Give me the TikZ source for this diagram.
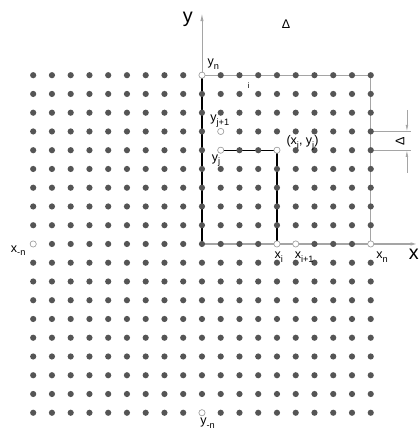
\documentclass[tikz,border=0pt]{standalone}
\usepackage{fontspec}
\setmainfont{Liberation Sans}
\usetikzlibrary{arrows.meta}
\definecolor{dotgray}{RGB}{85,85,85}
\definecolor{linegray}{RGB}{165,165,165}
\pgfdeclarelayer{background}
\pgfsetlayers{background,main}
\newcommand{\lowsub}[1]{\raisebox{-0.55ex}{\fontsize{7}{8}\selectfont #1}}
\tikzset{
  griddot/.style={circle,fill=dotgray,inner sep=0pt,minimum size=0.165cm},
  opendot/.style={circle,draw=linegray,fill=white,line width=0.5pt,inner sep=0pt,minimum size=0.165cm},
  lbl/.style={font=\fontsize{9.5}{10}\selectfont,inner sep=0pt},
  axislbl/.style={font=\fontsize{15}{16}\selectfont,inner sep=0pt}
}
\begin{document}
\begin{tikzpicture}[x=0.5cm,y=0.5cm]
  \useasboundingbox (-10.77,-9.92) rectangle (11.57,13.01);
  % Grid of points
  \foreach \i in {-9,...,9}{
    \foreach \j in {-9,...,9}{
      \node[griddot] (p\i_\j) at (\i,\j) {};
    }
  }
  % Open points
  \foreach \i/\j in {0/9,-9/0,0/-9,4/0,5/0,9/0,1/5,1/6,4/5}{
    \node[opendot] (q\i_\j) at (\i,\j) {};
  }
  % Axis tips and dimension points
  \coordinate (ytip) at (0,12.3);
  \coordinate (xtip) at (11.55,0);
  \coordinate (ea) at (11.15,6);
  \coordinate (eb) at (11.15,5);
  \coordinate (dt) at (10.93,7.15);
  \coordinate (da) at (10.93,6);
  \coordinate (db) at (10.93,5);
  \coordinate (dd) at (10.93,3.8);
  % Lines
  \begin{pgfonlayer}{background}
    \draw[linegray,line width=0.7pt,-{Latex[length=6pt,width=2.5pt]}] (p0_0.center) -- (ytip);
    \draw[linegray,line width=1pt,-{Latex[length=6pt,width=2.5pt]}] (p0_0.center) -- (xtip);
    \draw[linegray,line width=0.6pt] (q0_9.center) -- (p9_9.center) -- (q9_0.center);
    \draw[black,line width=0.9pt] (q0_9.center) -- (p0_0.center);
    \draw[black,line width=0.9pt] (q1_5.center) -- (q4_5.center) -- (q4_0.center);
    \draw[linegray,line width=0.5pt] (p9_6.center) -- (ea);
    \draw[linegray,line width=0.5pt] (p9_5.center) -- (eb);
    \draw[linegray,line width=0.5pt,-{Latex[length=5pt,width=2pt]}] (dt) -- (da);
    \draw[linegray,line width=0.5pt,-{Latex[length=5pt,width=2pt]}] (dd) -- (db);
  \end{pgfonlayer}
  % Labels
  \node[axislbl] (ylab) at (-0.75,12.0) {y};
  \node[axislbl] (xlab) at (11.3,-0.55) {x};
  \node[lbl] (deltatop) at (4.48,11.73) {Δ};
  \node[lbl,rotate=90] (deltadim) at (10.56,5.45) {Δ};
  \node[lbl] (ynlab) at (0.6,9.6) {y\lowsub{n}};
  \node[lbl] (ilab) at (2.5,8.45) {\fontsize{6}{7}\selectfont i};
  \node[lbl] (yj1lab) at (0.95,6.55) {y\lowsub{j+1}};
  \node[lbl] (yjlab) at (0.75,4.45) {y\lowsub{j}};
  \node[lbl] (xyijlab) at (5.36,5.4) {(x\lowsub{i}, y\lowsub{j})};
  \node[lbl] (xilab) at (4.1,-0.7) {x\lowsub{i}};
  \node[lbl] (xi1lab) at (5.45,-0.7) {x\lowsub{i+1}};
  \node[lbl] (xnlab) at (9.6,-0.7) {x\lowsub{n}};
  \node[lbl] (xmnlab) at (-9.8,-0.35) {x\lowsub{-n}};
  \node[lbl] (ymnlab) at (0.3,-9.55) {y\lowsub{-n}};
\end{tikzpicture}
\end{document}
